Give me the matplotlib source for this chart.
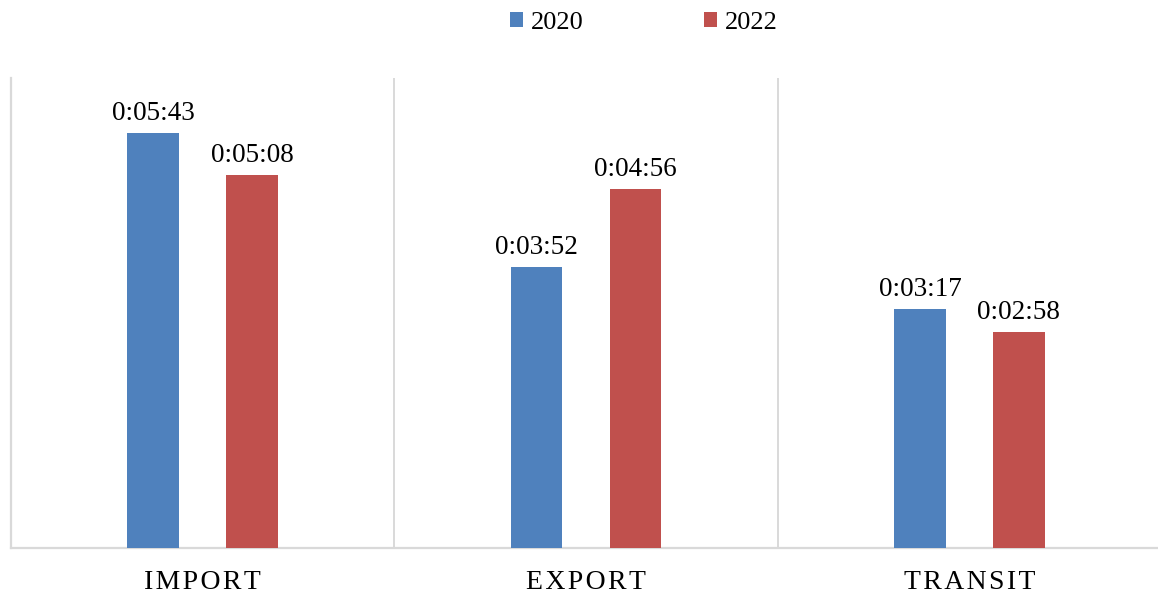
import numpy as np
import matplotlib
matplotlib.use("Agg")
import matplotlib.pyplot as plt

categories = ["IMPORT", "EXPORT", "TRANSIT"]
years = ["2020", "2022"]
times_2020 = ["0:05:43", "0:03:52", "0:03:17"]
times_2022 = ["0:05:08", "0:04:56", "0:02:58"]
colors = ["#4F81BD", "#C0504D"]


def to_seconds(t):
    h, m, s = (int(p) for p in t.split(":"))
    return h * 3600 + m * 60 + s


plt.rcParams['font.family'] = ['Liberation Serif', 'DejaVu Serif']

fig = plt.figure(figsize=(11.58, 5.95), dpi=100)
ax = fig.add_axes([11 / 1158, 47 / 595, 1150 / 1158, 470 / 595])

x = np.arange(len(categories))
width = 0.135
offset = 0.129
series = [times_2020, times_2022]

for i, (lab, times) in enumerate(zip(years, series)):
    vals = [to_seconds(t) for t in times]
    pos = x + (i * 2 - 1) * offset
    bars = ax.bar(pos, vals, width, color=colors[i], label=lab, zorder=3)
    for b, t in zip(bars, times):
        ax.annotate(t, (b.get_x() + b.get_width() / 2, b.get_height()),
                    xytext=(0, 5), textcoords="offset points",
                    ha="center", va="bottom", fontsize=19.5)

ax.set_xlim(-0.5, 2.5)
ax.set_ylim(0, 388)
ax.set_yticks([])
ax.set_xticks(x)
# wide letter spacing like the original
ax.set_xticklabels(["\u200a".join(c) for c in categories], fontsize=20)
ax.tick_params(axis="x", length=0, pad=16)

for xb in [0.5, 1.5]:
    ax.axvline(xb, color="#D9D9D9", lw=1.4, zorder=1)

for s in ["top", "right"]:
    ax.spines[s].set_visible(False)
ax.spines["left"].set_color("#D9D9D9")
ax.spines["left"].set_linewidth(1.6)
ax.spines["bottom"].set_color("#D9D9D9")
ax.spines["bottom"].set_linewidth(1.6)

fig.legend(loc="center", bbox_to_anchor=(644 / 1158, 1 - 23 / 595), ncol=2,
           frameon=False, fontsize=19, handlelength=0.5, handleheight=0.5,
           handletextpad=0.3, columnspacing=4.55)

fig.savefig("out.png", dpi=100)
